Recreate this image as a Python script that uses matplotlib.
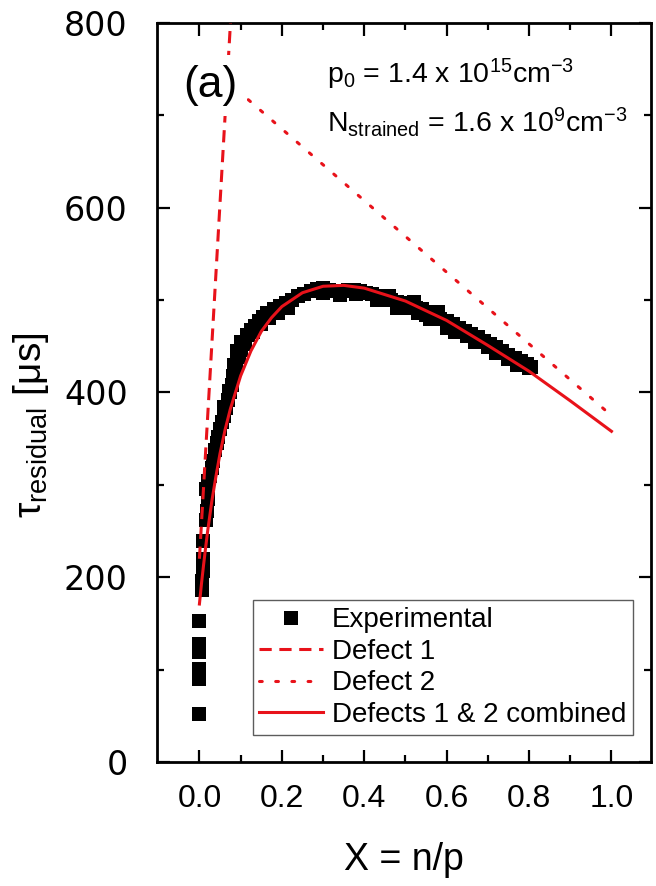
import numpy as np
import matplotlib
matplotlib.use('Agg')
import matplotlib.pyplot as plt

plt.rcParams['font.family'] = ['Liberation Sans', 'DejaVu Sans']
plt.rcParams['mathtext.fontset'] = 'custom'
plt.rcParams['mathtext.rm'] = 'Liberation Sans'
plt.rcParams['mathtext.it'] = 'Liberation Sans:italic'
plt.rcParams['mathtext.default'] = 'regular'

RED = '#e8121a'

# experimental tau_residual vs X = n/p
exp_x = [0.000, 0.000, 0.000, 0.000, 0.000, 0.000,
         0.006, 0.007, 0.008, 0.008, 0.009,
         0.015, 0.018, 0.020, 0.017, 0.022, 0.026,
         0.030, 0.034, 0.038, 0.042, 0.046, 0.050, 0.055,
         0.060, 0.065, 0.070, 0.075, 0.078, 0.082, 0.088,
         0.095, 0.102, 0.110, 0.118, 0.125, 0.135, 0.145,
         0.155, 0.165, 0.180, 0.195, 0.210, 0.225, 0.240, 0.255,
         0.270, 0.285, 0.300, 0.315, 0.330, 0.345, 0.360, 0.375, 0.390,
         0.405, 0.420, 0.435, 0.450, 0.465, 0.480, 0.495, 0.510, 0.525,
         0.540, 0.555, 0.570, 0.585, 0.600, 0.615, 0.630, 0.645, 0.660,
         0.675, 0.690, 0.705, 0.720, 0.735, 0.750, 0.765, 0.780, 0.795, 0.805,
         0.090, 0.100, 0.115, 0.300, 0.340, 0.380, 0.460, 0.500, 0.520,
         0.550, 0.580, 0.600, 0.650, 0.700, 0.750, 0.800,
         0.060, 0.072, 0.085, 0.105, 0.130, 0.150, 0.170, 0.190, 0.215,
         0.430, 0.480, 0.530, 0.560, 0.620, 0.670, 0.720, 0.770]
exp_y = [52, 90, 101, 119, 128, 153,
         186, 196, 207, 220, 239,
         262, 272, 285, 296, 304, 310,
         318, 326, 338, 345, 352, 360, 368,
         375, 383, 392, 400, 408, 418, 428,
         438, 446, 455, 462, 468, 472, 477,
         482, 486, 490, 494, 497, 500, 504, 507,
         510, 512, 513, 511, 510, 510, 511, 511, 510,
         508, 507, 505, 502, 500, 498, 497, 495, 492,
         490, 487, 484, 480, 477, 474, 470, 467, 463,
         460, 456, 453, 449, 445, 441, 437, 434, 431, 428,
         445, 455, 462, 508, 506, 507, 504, 492, 498,
         484, 487, 470, 461, 449, 436, 426,
         384, 402, 430, 452, 466, 474, 481, 486, 492,
         500, 491, 486, 480, 466, 455, 443, 430]

# model lines
defect1_x = [0.0, 0.1]
defect1_y = [220, 990]
defect2_x = [0.0, 1.0]
defect2_y = [763, 375]
comb_x = [0.0, 0.005, 0.01, 0.015, 0.02, 0.03, 0.04, 0.05, 0.0625, 0.075,
          0.1, 0.125, 0.15, 0.175, 0.2, 0.25, 0.3, 0.35, 0.4, 0.5,
          0.6, 0.7, 0.8, 0.9, 1.0]
comb_y = [171, 193, 213, 232, 250, 282, 309, 334, 360, 382,
          418, 445, 466, 481, 493, 508, 515, 516, 513, 499,
          478, 451, 423, 391, 358]

fig = plt.figure(figsize=(6.56, 8.86), dpi=100)
ax = fig.add_axes([0.2393, 0.14, 0.7531, 0.834])

ax.plot(exp_x, exp_y, 's', color='black', markersize=10.5, markeredgewidth=0,
        label='Experimental', zorder=2)
ax.plot(defect1_x, defect1_y, color=RED, lw=2.2, dashes=(4, 2.5),
        label='Defect 1', zorder=3)
ax.plot(defect2_x, defect2_y, color=RED, lw=2.2, linestyle=(0, (0.9, 4.4)),
        dash_capstyle='round', label='Defect 2', zorder=3)
ax.plot(comb_x, comb_y, color=RED, lw=2.2, label='Defects 1 & 2 combined', zorder=4)

ax.set_xlim(-0.103, 1.096)
ax.set_ylim(0, 800)
ax.set_xticks(np.arange(0, 1.01, 0.2))
ax.set_xticks(np.arange(0.1, 1.0, 0.2), minor=True)
ax.set_yticks(np.arange(0, 801, 200))
ax.set_yticks(np.arange(100, 800, 200), minor=True)
ax.xaxis.set_major_formatter(matplotlib.ticker.FormatStrFormatter('%.1f'))

ax.tick_params(which='both', direction='in', top=True, right=True, width=1.6)
ax.tick_params(which='major', length=9)
ax.tick_params(which='minor', length=5)
ax.tick_params(axis='x', which='major', labelsize=23, pad=16)
ax.tick_params(axis='y', which='major', labelsize=24, pad=21)
for lab in ax.get_yticklabels():
    lab.set_family('DejaVu Sans')
for sp in ax.spines.values():
    sp.set_linewidth(2)

ax.set_xlabel('X = n/p', fontsize=27, labelpad=20)
ax.set_ylabel(r'τ$_{\mathrm{residual}}$ [μs]', fontsize=28)
ax.yaxis.set_label_coords(-0.215, 0.456)

ax.text(0.053, 0.90, '(a)', transform=ax.transAxes, fontsize=32,
        va='baseline', ha='left', zorder=5,
        bbox=dict(boxstyle='square,pad=0.22', fc='white', ec='none'))
ax.text(0.344, 0.919, r'p$_0$ = 1.4 x 10$^{15}$cm$^{-3}$', transform=ax.transAxes,
        fontsize=20.5, va='baseline', ha='left')
ax.text(0.344, 0.8525, r'N$_{\mathrm{strained}}$ = 1.6 x 10$^9$cm$^{-3}$',
        transform=ax.transAxes, fontsize=20.5, va='baseline', ha='left')

leg = ax.legend(loc='lower right', bbox_to_anchor=(0.9636, 0.0365), borderaxespad=0,
                fontsize=20, frameon=True, fancybox=False, handlelength=2.3,
                handletextpad=0.3, labelspacing=0.2, borderpad=0.25)
leg.get_frame().set_edgecolor('#333333')
leg.get_frame().set_linewidth(1.0)

fig.savefig('out.png', dpi=100)
